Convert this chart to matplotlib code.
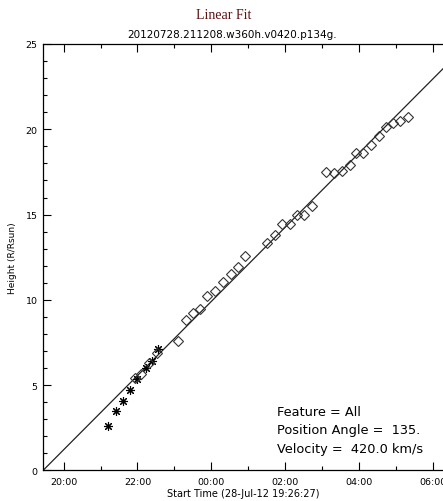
import numpy as np
import matplotlib
matplotlib.use("Agg")
import matplotlib.pyplot as plt

# hours after start time 19:26:27, heights in solar radii
star_t = [1.762, 1.978, 2.168, 2.358, 2.547, 2.791, 2.954, 3.117]
star_h = [2.59, 3.47, 4.06, 4.71, 5.35, 6.00, 6.41, 7.12]

diam_t = [2.493, 2.656, 2.873, 3.089, 3.659, 3.875, 4.065, 4.255, 4.444, 4.661,
          4.878, 5.095, 5.285, 5.474, 6.070, 6.287, 6.477, 6.694, 6.883, 7.073,
          7.290, 7.669, 7.886, 8.103, 8.320, 8.482, 8.672, 8.889, 9.106, 9.295,
          9.485, 9.675, 9.892]
diam_h = [5.41, 5.65, 6.29, 6.88, 7.59, 8.82, 9.24, 9.47, 10.24, 10.53,
          11.06, 11.53, 11.94, 12.59, 13.35, 13.82, 14.47, 14.47, 15.00, 15.00,
          15.53, 17.47, 17.41, 17.53, 17.88, 18.59, 18.59, 19.06, 19.59, 20.12,
          20.35, 20.47, 20.71]

velocity = 420.0  # km/s
tick_labels = ["20:00", "22:00", "00:00", "02:00", "04:00", "06:00"]
first_tick = 0.5592  # 20:00 in hours after 19:26:27

fig = plt.figure(figsize=(4.43, 5.02), dpi=100)
ax = fig.add_axes([0.0971, 0.0608, 0.9029, 0.8496])

# linear fit line
rate = velocity * 3600 / 696000.0  # Rsun per hour
t_line = np.array([0, 11.5])
ax.plot(t_line, rate * t_line, color="#222222", lw=0.9)

ax.plot(star_t, star_h, ls="none", marker=(8, 2, 0), ms=6.5, mew=0.8, color="black")
ax.plot(diam_t, diam_h, ls="none", marker="D", ms=4.6, mew=0.8,
        mfc="none", mec="#333333")

ax.set_xlim(0, 10.84)
ax.set_ylim(0, 25)
ax.set_xticks([first_tick + 2 * i for i in range(len(tick_labels))])
ax.set_xticklabels(tick_labels)
ax.set_xticks([first_tick + 1 + 2 * i for i in range(5)], minor=True)
ax.set_yticks([0, 5, 10, 15, 20, 25])
ax.set_yticks([i for i in range(26) if i % 5], minor=True)

ax.spines["right"].set_visible(False)
for s in ax.spines.values():
    s.set_linewidth(0.9)
ax.tick_params(which="both", direction="in", top=True, right=False,
               labelsize=6.8, width=0.8, pad=4)
ax.tick_params(axis="x", which="both", pad=5)
ax.tick_params(which="major", length=5.5)
ax.tick_params(which="minor", length=3)

ax.set_xlabel("Start Time (28-Jul-12 19:26:27)", fontsize=7, labelpad=1)
ax.set_ylabel("Height (R/Rsun)", fontsize=6.5, labelpad=6)

fig.text(0.506, 0.970, "Linear Fit", family="Liberation Serif", fontsize=10,
         color="#5c1010", ha="center", va="center")
fig.text(0.524, 0.930, "20120728.211208.w360h.v0420.p134g.", fontsize=7.5,
         ha="center", va="center")

ax.text(0.585, 0.138, "Feature = All", transform=ax.transAxes, fontsize=9.3, va="center")
ax.text(0.585, 0.095, "Position Angle =  135.", transform=ax.transAxes, fontsize=9.3, va="center")
ax.text(0.585, 0.052, "Velocity =  420.0 km/s", transform=ax.transAxes, fontsize=9.3, va="center")

fig.savefig("out.png", dpi=100)
